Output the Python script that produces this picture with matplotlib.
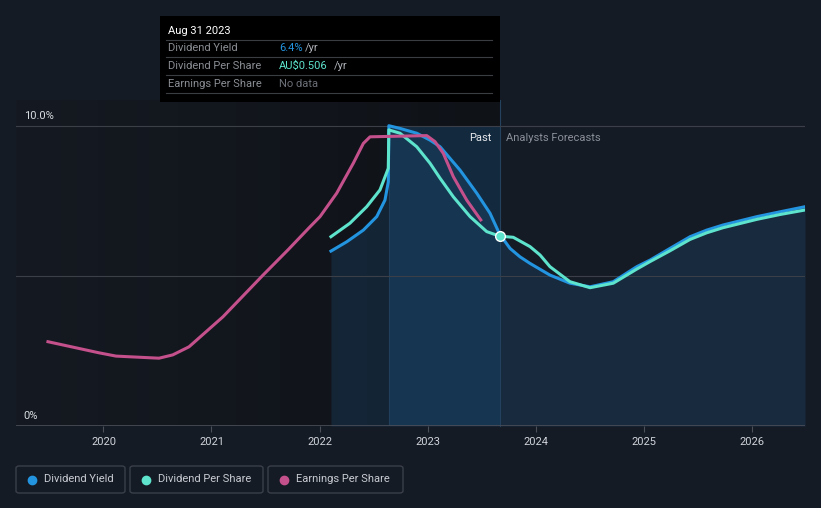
import numpy as np
import matplotlib.pyplot as plt
from matplotlib.patches import Rectangle, FancyBboxPatch
from matplotlib.colors import LinearSegmentedColormap

plt.rcParams['font.family'] = ['Roboto', 'DejaVu Sans']

# data (x = decimal year, y = percent)
yield_x = [2022.106, 2022.252, 2022.406, 2022.530, 2022.606, 2022.637, 2022.642,
           2022.745, 2022.900, 2023.023, 2023.116, 2023.301, 2023.456, 2023.579,
           2023.667, 2023.764, 2023.856, 2023.949, 2024.134, 2024.319, 2024.505,
           2024.720, 2024.937, 2025.060, 2025.245, 2025.431, 2025.585, 2025.736,
           2026.051, 2026.264, 2026.495]
yield_y = [5.83, 6.14, 6.53, 6.98, 7.53, 8.14, 10.01,
           9.92, 9.76, 9.53, 9.31, 8.53, 7.76, 7.09,
           6.40, 5.92, 5.64, 5.42, 5.03, 4.76, 4.64,
           4.81, 5.31, 5.53, 5.92, 6.31, 6.53, 6.70,
           6.98, 7.14, 7.31]

dps_x = [2022.106, 2022.282, 2022.437, 2022.560, 2022.637, 2022.642, 2022.745,
         2022.900, 2023.023, 2023.116, 2023.239, 2023.394, 2023.548, 2023.667,
         2023.794, 2023.949, 2024.042, 2024.134, 2024.319, 2024.505, 2024.720,
         2024.937, 2025.060, 2025.245, 2025.431, 2025.585, 2025.736, 2026.051,
         2026.264, 2026.495]
dps_y = [6.31, 6.76, 7.31, 7.87, 8.59, 9.87, 9.76,
         9.31, 8.76, 8.26, 7.64, 6.98, 6.48, 6.33,
         6.29, 5.98, 5.70, 5.31, 4.81, 4.61, 4.76,
         5.23, 5.48, 5.84, 6.22, 6.44, 6.61, 6.89,
         7.05, 7.20]

eps_x = [2019.486, 2019.958, 2020.116, 2020.514, 2020.641, 2020.792, 2021.106,
         2021.477, 2021.708, 2021.912, 2022.005, 2022.159, 2022.313, 2022.406,
         2022.468, 2022.993, 2023.069, 2023.146, 2023.239, 2023.363, 2023.493]
eps_y = [2.81, 2.44, 2.33, 2.26, 2.37, 2.64, 3.64,
         5.03, 5.87, 6.64, 6.98, 7.76, 8.76, 9.42,
         9.64, 9.68, 9.48, 9.09, 8.31, 7.53, 6.87]

year_ticks = [2020, 2021, 2022, 2023, 2024, 2025, 2026]
now_x = 2023.671
now_dps = 6.33
hl_start = 2022.642
x_min, x_max = 2019.19, 2026.495
y_top = 10.867

c_blue = '#2394df'
c_teal = '#5ee3cd'
c_mag = '#c4508c'
bg = '#151b25'

fig = plt.figure(figsize=(8.21, 5.08), dpi=100, facecolor=bg)
ax = fig.add_axes([16 / 821, 82 / 508, 789 / 821, 326 / 508])
ax.set_facecolor(bg)
ax.set_xlim(x_min, x_max)
ax.set_ylim(0, y_top)

# darker past background with slight gradient
grad = np.linspace(0, 1, 200).reshape(1, -1)
cmap = LinearSegmentedColormap.from_list('pastbg', ['#151a22', '#0f1217'])
ax.imshow(grad, extent=[x_min, now_x, 0, y_top], aspect='auto', cmap=cmap, zorder=0)

# area under yield line
ax.fill_between(yield_x, 0, yield_y, color='#1f5a8a', alpha=0.25, lw=0, zorder=1)
# highlighted last year
ax.axvspan(hl_start, now_x, ymin=0, ymax=10 / y_top, color='#1c5587', alpha=0.35, lw=0, zorder=1)
ax.axvline(hl_start, ymax=10 / y_top, color='#1f3f5c', lw=0.8, zorder=1)
ax.axvline(now_x, ymax=1, color='#24425e', lw=0.8, zorder=1, clip_on=False)

# grid lines
for v in [5, 10]:
    ax.axhline(v, color='#3a3f48', lw=0.8, zorder=1)
ax.axhline(0, color='#4a4f58', lw=1.2, zorder=5)

ax.plot(yield_x, yield_y, color=c_blue, lw=2.2, zorder=3, solid_joinstyle='round')
ax.plot(dps_x, dps_y, color=c_teal, lw=2.2, zorder=3, solid_joinstyle='round')
ax.plot(eps_x, eps_y, color=c_mag, lw=2.2, zorder=4, solid_joinstyle='round')
ax.plot([now_x], [now_dps], 'o', ms=7, mfc=c_teal, mec='white', mew=1, zorder=6)

ax.text(2019.26, 10.18, '10.0%', color='#d8dbe0', fontsize=8, va='bottom')
ax.text(2019.26, 0.18, '0%', color='#d8dbe0', fontsize=8, va='bottom')
ax.text(now_x - 0.08, 9.6, 'Past', color='#e6e8eb', fontsize=8, ha='right', va='center')
ax.text(now_x + 0.06, 9.6, 'Analysts Forecasts', color='#8a8f98', fontsize=8, ha='left', va='center')

ax.set_xticks(year_ticks)
ax.set_xticklabels([str(y) for y in year_ticks])
ax.tick_params(axis='x', colors='#4a4f58', labelcolor='#d0d4da', labelsize=8, length=4, pad=4)
ax.set_yticks([])
for s in ax.spines.values():
    s.set_visible(False)

# tooltip
W, H = 821, 508
def fx(px):
    return px / W
def fy(py):
    return 1 - py / H
fig.patches.append(Rectangle((fx(160), fy(102)), fx(340), 86 / H, transform=fig.transFigure,
                             facecolor='black', edgecolor='none', zorder=10))
fig.text(fx(168), fy(31), 'Aug 31 2023', color='white', fontsize=8, va='center', zorder=11)
rows = [('Dividend Yield', '6.4%', c_blue, 48, 305),
        ('Dividend Per Share', 'AU$0.506', c_teal, 66, 334),
        ('Earnings Per Share', 'No data', '#6c7078', 84, None)]
for yy in [40, 57, 75, 93]:
    fig.lines.append(plt.Line2D([fx(166), fx(492)], [fy(yy), fy(yy)], transform=fig.transFigure,
                                color='#3a3d42', lw=0.8, zorder=11))
for lab, val, col, yy, unit_x in rows:
    fig.text(fx(168), fy(yy), lab, color='#8a8e94', fontsize=8, va='center', zorder=11)
    fig.text(fx(279), fy(yy), val, color=col, fontsize=8, va='center', zorder=11)
    if unit_x:
        fig.text(fx(unit_x), fy(yy), '/yr', color='#b0b4ba', fontsize=8, va='center', zorder=11)

# legend boxes
legend = [('Dividend Yield', c_blue, 16, 125), ('Dividend Per Share', c_teal, 130, 263),
          ('Earnings Per Share', c_mag, 268, 403)]
for lab, col, x0, x1 in legend:
    fig.patches.append(FancyBboxPatch((fx(x0), fy(493)), fx(x1 - x0), 27 / H,
                                      boxstyle='round,pad=0,rounding_size=0.004',
                                      transform=fig.transFigure, facecolor='none',
                                      edgecolor='#3a3f4a', lw=1))
    fig.lines.append(plt.Line2D([fx(x0 + 16)], [fy(479.5)], transform=fig.transFigure,
                                marker='o', ms=6, color=col, mec=col))
    fig.text(fx(x0 + 28), fy(479.5), lab, color='#c8ccd2', fontsize=8, va='center')

fig.savefig('out.png', dpi=100, facecolor=bg)
